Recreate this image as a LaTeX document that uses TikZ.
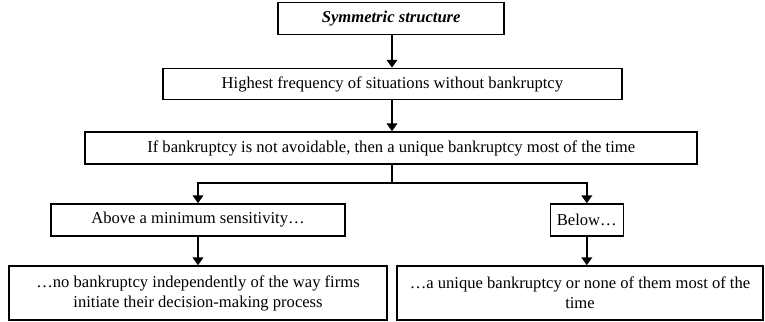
\documentclass[tikz,border=0pt]{standalone}
\usepackage{fontspec}
\setmainfont{Liberation Serif}
\usetikzlibrary{arrows.meta,positioning,calc}

\begin{document}
\begin{tikzpicture}[
  font=\fontsize{11.8}{14.2}\selectfont,
  box/.style={draw=black, line width=1.1pt, align=center, inner sep=0pt, minimum height=0.8cm},
  flow/.style={-{Triangle[length=5.5pt, width=7.5pt]}, line width=1.1pt},
  link/.style={line width=1.1pt},
]
\useasboundingbox (0,0) rectangle (19.125,-8.05);
% main column
\node[box, minimum width=5.65cm] (sym) at (9.78,-0.46) {\textbf{\textit{Symmetric structure}}};
\node[box, minimum width=11.475cm, minimum height=0.78cm] (freq) at (9.81,-2.1) {Highest frequency of situations without bankruptcy};
\node[box, minimum width=15.3cm] (avoid) at (9.78,-3.7) {If bankruptcy is not avoidable, then a unique bankruptcy most of the time};
% branches
\node[box, minimum width=7.35cm] (above) at (4.95,-5.5) {Above a minimum sensitivity…};
\node[box, minimum width=1.825cm] (below) at (14.67,-5.5) {Below…};
\node[box, minimum width=9.45cm, minimum height=1.35cm] (nobank) at (4.95,-7.325) {…no bankruptcy independently of the way firms\\initiate their decision-making process};
\node[box, minimum width=9.15cm, minimum height=1.35cm] (unique) at (14.5,-7.325) {…a unique bankruptcy or none of them most of the\\time};
\coordinate (split) at (9.8,-4.575);
% arrows
\draw[flow] (sym.south -| split) -- (split |- freq.north);
\draw[flow] (freq.south -| split) -- (split |- avoid.north);
\draw[link] (avoid.south -| split) -- (split);
\draw[flow] (split) -| (above);
\draw[flow] (split) -| (below);
\draw[flow] (above) -- (nobank);
\draw[flow] (below) -- (below |- unique.north);
\end{tikzpicture}
\end{document}
